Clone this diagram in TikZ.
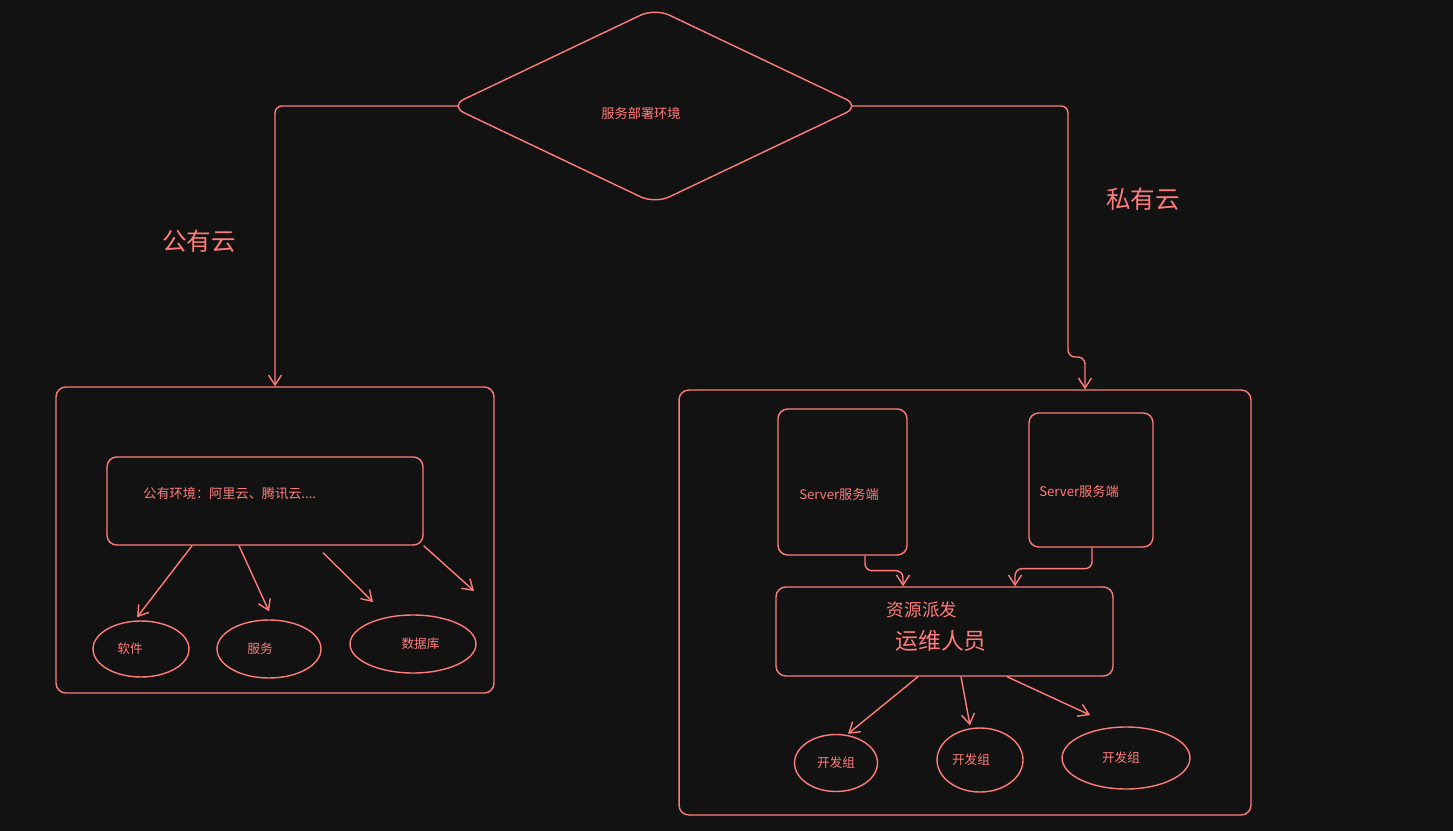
\documentclass[tikz,border=0pt]{standalone}
\usepackage{fontspec}
\setmainfont{Noto Sans CJK SC}
\usepackage{tikz}
\usetikzlibrary{arrows.meta,shapes.geometric}
\definecolor{bgdark}{HTML}{121212}
\definecolor{salmon}{HTML}{FF7B7B}

\begin{document}
\begin{tikzpicture}[
    x=0.02cm, y=-0.02cm,
    box/.style={
        rectangle,
        rounded corners=5.5pt,
        draw=salmon,
        line width=0.8pt,
        inner sep=0pt
    },
    blob/.style={
        ellipse,
        draw=salmon,
        line width=0.8pt,
        inner sep=0pt,
        text=salmon,
        font=\fontsize{7.2}{9}\selectfont
    },
    decision/.style={
        diamond,
        rounded corners=9pt,
        draw=salmon,
        line width=0.8pt,
        inner sep=0pt,
        minimum width=8.22cm,
        minimum height=3.92cm
    },
    txt/.style={text=salmon, inner sep=0pt, font=\fontsize{7.5}{9}\selectfont},
    bigtxt/.style={text=salmon, inner sep=0pt, font=\fontsize{14}{16}\selectfont},
    arrow/.style={-{Straight Barb[length=2mm,width=2.6mm]}, draw=salmon, line width=0.8pt},
    link/.style={arrow, rounded corners=4pt}
]

% background
\fill[bgdark] (0,0) rectangle (1453,831);

% deployment decision
\node[decision] (deploy) at (655,106) {};
\node[txt] (deploytxt) at (641,113) {服务部署环境};

% public cloud
\node[box, minimum width=8.76cm, minimum height=6.12cm] (pub) at (275,540) {};
\node[box, minimum width=6.32cm, minimum height=1.76cm] (pubenv) at (265,501) {};
\node[txt, anchor=west] (pubtxt) at (143,494) {公有环境：阿里云、腾讯云....};
\node[blob, minimum width=1.92cm, minimum height=1.12cm] (soft) at (141,649) {\hspace*{-0.44cm}软件};
\node[blob, minimum width=2.08cm, minimum height=1.16cm] (serv) at (269,649) {\hspace*{-0.36cm}服务};
\node[blob, minimum width=2.52cm, minimum height=1.16cm] (db) at (413,644) {\hspace{0.3cm}数据库};
\coordinate (freeA) at (373,602);
\coordinate (freeB) at (474,591);

% private cloud
\node[box, minimum width=11.44cm, minimum height=8.5cm] (priv) at (965,602.5) {};
\node[box, minimum width=2.58cm, minimum height=2.92cm] (srvA) at (842.5,482) {};
\node[txt] (srvAtxt) at (839,494) {Server服务端};
\node[box, minimum width=2.48cm, minimum height=2.68cm] (srvB) at (1091,480) {};
\node[txt] (srvBtxt) at (1079,491) {Server服务端};
\node[box, minimum width=6.74cm, minimum height=1.78cm] (ops) at (944.5,631.5) {};
\node[txt, font=\fontsize{10}{12}\selectfont] (opsA) at (922,610) {资源派发};
\node[txt, font=\fontsize{13}{15}\selectfont] (opsB) at (941,641) {运维人员};
\node[blob, minimum width=1.66cm, minimum height=1.14cm] (devA) at (836,763) {开发组};
\node[blob, minimum width=1.72cm, minimum height=1.28cm] (devB) at (980,760) {\hspace*{-0.36cm}开发组};
\node[blob, minimum width=2.56cm, minimum height=1.24cm] (devC) at (1126,758) {\hspace*{-0.2cm}开发组};
\coordinate (freeC) at (1090,715);

% labels
\node[bigtxt] (publbl) at (199,241) {公有云};
\node[bigtxt] (privlbl) at (1143,199) {私有云};

% arrows
\draw[link] ([xshift=0.2cm]deploy.west) -| (pub.north);
\draw[link] ([xshift=-0.18cm]deploy.east) -| (1068,357) -| ([xshift=2.4cm]priv.north);

\draw[arrow] ([xshift=-1.46cm]pubenv.south) -- ([xshift=-0.08cm,yshift=0.06cm]soft.north);
\draw[arrow] ([xshift=-0.52cm]pubenv.south) -- ([yshift=0.16cm]serv.north);
\draw[arrow] ([xshift=1.16cm,yshift=-0.14cm]pubenv.south) -- (freeA);
\draw[arrow] (pubenv.south east) -- (freeB);

\draw[link] ([xshift=0.45cm]srvA.south) -- ++(0,-0.3cm) -| ([xshift=-0.83cm]ops.north);
\draw[link] ([xshift=0.02cm]srvB.south) -- ++(0,-0.42cm) -| ([xshift=1.41cm]ops.north);

\draw[arrow] ([xshift=-0.53cm]ops.south) -- ([xshift=0.24cm]devA.north);
\draw[arrow] ([xshift=0.33cm]ops.south) -- ([xshift=-0.2cm,yshift=0.04cm]devB.north);
\draw[arrow] ([xshift=1.25cm]ops.south) -- (freeC);

\end{tikzpicture}
\end{document}
